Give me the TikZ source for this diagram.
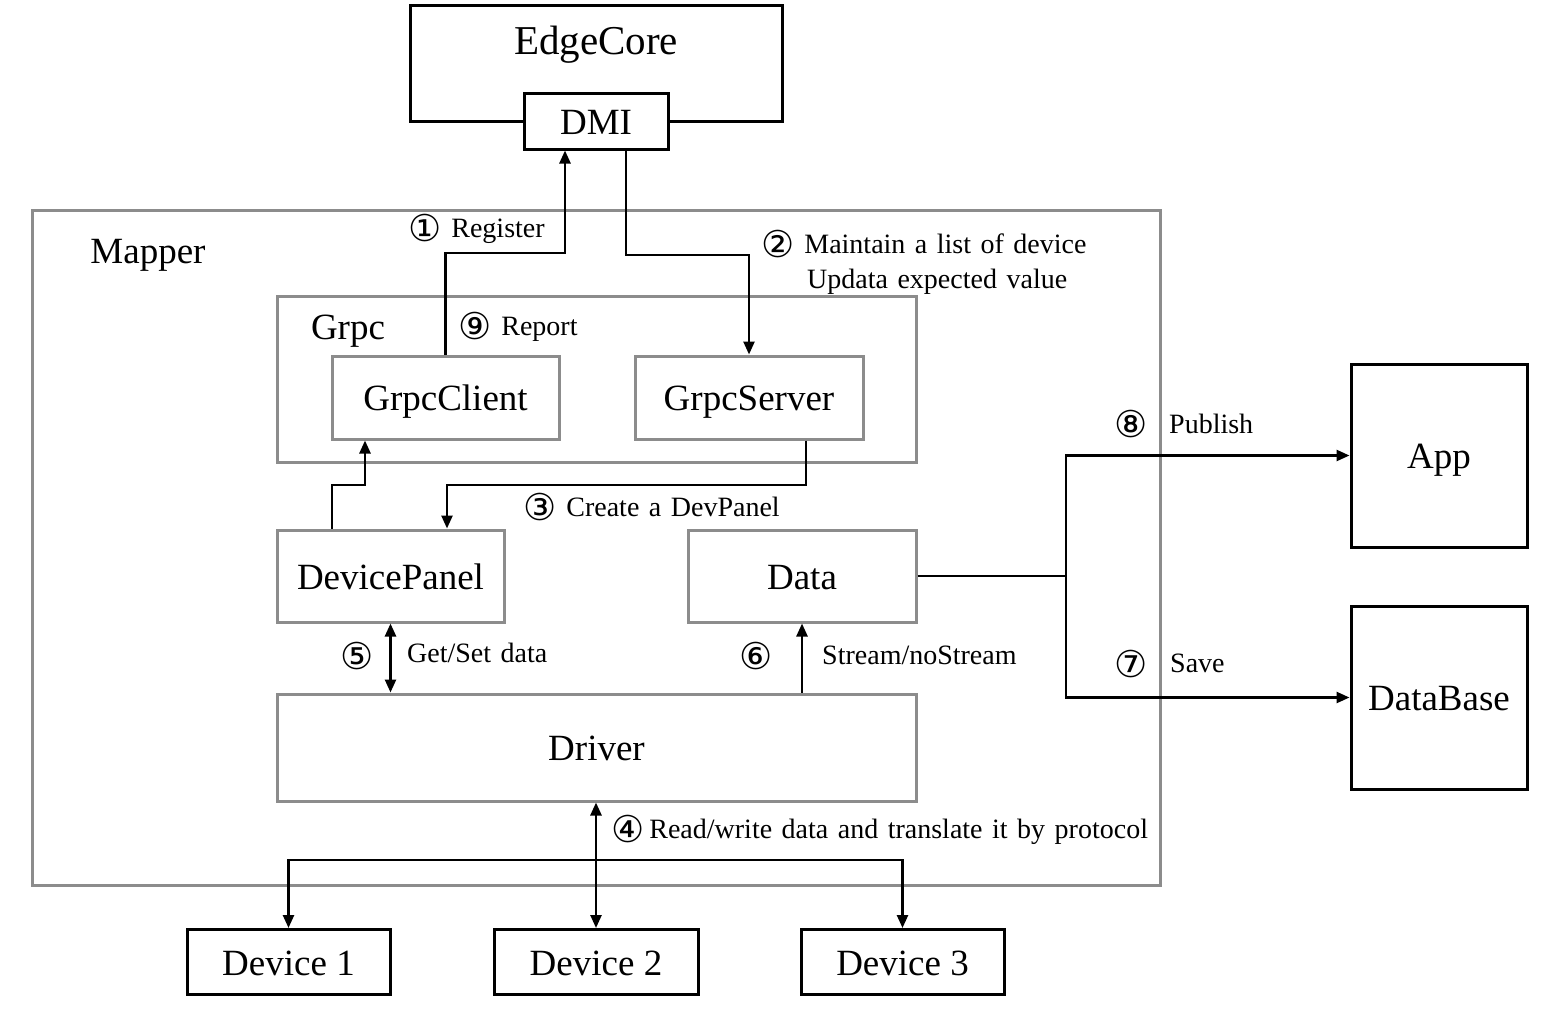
\documentclass[tikz,border=0pt]{standalone}
\usepackage{fontspec}
\setmainfont{Liberation Serif}
\newfontfamily\numfont{DejaVu Sans}
\usetikzlibrary{arrows.meta}

\definecolor{framegray}{RGB}{140,140,140}
\newcommand{\cnum}[1]{\raisebox{-4pt}{\numfont\fontsize{37}{37}\selectfont #1}}
\newcommand{\lblfont}{\fontsize{28}{30}\selectfont\spaceskip=9.5pt\relax}

\begin{document}
\begin{tikzpicture}[x=1pt, y=-1pt,
    blackbox/.style={draw=black, line width=3pt, fill=white, inner sep=0pt},
    graybox/.style={draw=framegray, line width=3pt, inner sep=0pt},
    bigtxt/.style={font=\fontsize{37}{40}\selectfont, text height=26pt, text depth=0pt},
    lbl/.style={font=\lblfont, inner sep=0pt, anchor=west, text height=21pt, text depth=2pt},
    numlbl/.style={inner sep=0pt, text height=21pt, text depth=2pt},
    arr/.style={-{Triangle[length=13pt, width=11pt]}, line width=2.5pt},
    dblarr/.style={{Triangle[length=13pt, width=11pt]}-{Triangle[length=13pt, width=11pt]}, line width=2.5pt}]
    \useasboundingbox (0,0) rectangle (1555,1009);

    % Mapper frame and its parts
    \node[graybox, minimum width=1128, minimum height=675] (mapper) at (596,547.5) {};
    \node[bigtxt] (mappertxt) at (148,250) {Mapper};
    \node[graybox, minimum width=639, minimum height=166] (grpc) at (596.5,379) {};
    \node[bigtxt] (grpctxt) at (348,326) {Grpc};
    \node[graybox, bigtxt, minimum width=227, minimum height=83] (client) at (445.5,397.5) {GrpcClient};
    \node[graybox, bigtxt, minimum width=228, minimum height=83] (server) at (749,397.5) {GrpcServer};
    \node[graybox, bigtxt, minimum width=227, minimum height=92] (panel) at (390.5,576) {DevicePanel};
    \node[graybox, bigtxt, minimum width=228, minimum height=92] (data) at (802,576) {Data};
    \node[graybox, bigtxt, minimum width=639, minimum height=107] (driver) at (596.5,747.5) {Driver};

    % EdgeCore with DMI
    \node[blackbox, minimum width=372, minimum height=116] (edgecore) at (596,63) {};
    \node[font=\fontsize{41}{44}\selectfont, text height=28pt, text depth=0pt] (edgecoretxt) at (596,40) {EdgeCore};
    \node[blackbox, bigtxt, minimum width=144, minimum height=56] (dmi) at (596,121) {DMI};

    % outside boxes
    \node[blackbox, bigtxt, minimum width=176, minimum height=183] (app) at (1439,455.5) {App};
    \node[blackbox, bigtxt, minimum width=176, minimum height=183] (db) at (1439,697.5) {DataBase};
    \node[blackbox, bigtxt, minimum width=203, minimum height=65] (dev1) at (288.5,962) {Device 1};
    \node[blackbox, bigtxt, minimum width=204, minimum height=65] (dev2) at (596,962) {Device 2};
    \node[blackbox, bigtxt, minimum width=203, minimum height=65] (dev3) at (902.5,962) {Device 3};

    % bend points
    \coordinate (regbend) at (565,253);
    \coordinate (mtbend) at (626,255);
    \coordinate (crbend) at (806,485);
    \coordinate (crend) at (447,485);
    \coordinate (rpbend) at (332,485);
    \coordinate (rpup) at (365,485);
    \coordinate (split) at (1066,576);
    \coordinate (bus) at (596,860);

    % register / maintain
    \draw[arr] (client.north) |- (regbend) -- (regbend |- dmi.south);
    \draw[arr] (mtbend |- dmi.south) -- (mtbend) -| (server.north);

    % create a DevPanel / report
    \draw[arr] (crbend |- server.south) -- (crbend) -- (crend) -- (crend |- panel.north);
    \draw[arr] (rpbend |- panel.north) -- (rpbend) -- (rpup) -- (rpup |- client.south);

    % driver links
    \draw[dblarr] (panel.south) -- (panel.south |- driver.north);
    \draw[arr] (data.south |- driver.north) -- (data.south);

    % publish / save
    \draw[line width=2.5pt] (data.east) -- (split);
    \draw[arr] (split) |- (app.west);
    \draw[arr] (split) |- (db.west);

    % devices
    \draw[dblarr] (driver.south -| dev2.north) -- (dev2.north);
    \draw[arr] (bus) -| (dev1.north);
    \draw[arr] (bus) -| (dev3.north);

    % labels
    \node[lbl] (lreg) at (408,228) {\cnum{①}\hspace{10pt}Register};
    \node[lbl] (lmt) at (761,244) {\cnum{②}\hspace{10pt}Maintain a list of device};
    \node[lbl] (lupd) at (807,279) {Updata expected value};
    \node[lbl] (lrep) at (458,326) {\cnum{⑨}\hspace{10pt}Report};
    \node[lbl] (lcr) at (523,507) {\cnum{③}\hspace{10pt}Create a DevPanel};
    \node[numlbl] (n5) at (357,656) {\cnum{⑤}};
    \node[lbl] (lgs) at (407,653) {Get/Set data};
    \node[numlbl] (n6) at (756,656) {\cnum{⑥}};
    \node[lbl] (lst) at (822,655) {Stream/noStream};
    \node[numlbl] (n8) at (1131,424) {\cnum{⑧}};
    \node[lbl] (lpub) at (1169,424) {Publish};
    \node[numlbl] (n7) at (1131,664) {\cnum{⑦}};
    \node[lbl] (lsave) at (1170,663) {Save};
    \node[lbl] (lrw) at (611,829) {\cnum{④}\hspace{5pt}Read/write data and translate it by protocol};
\end{tikzpicture}
\end{document}
